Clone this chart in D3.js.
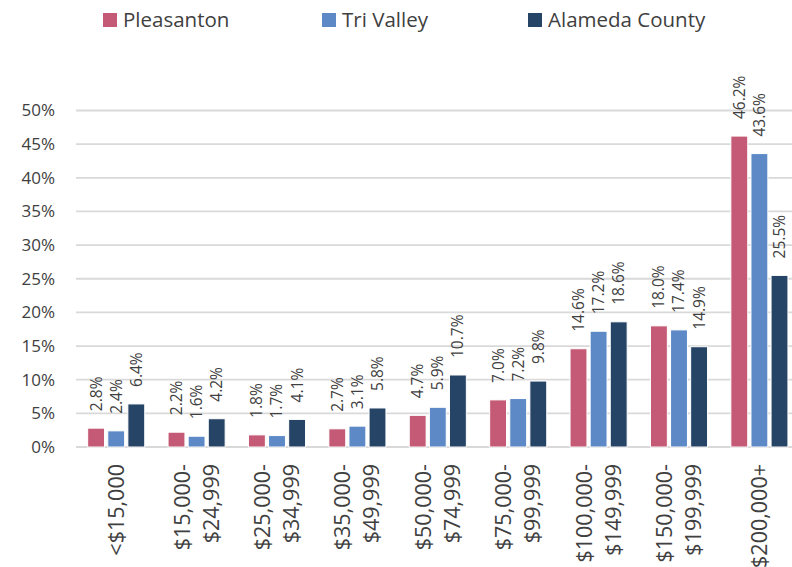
<!DOCTYPE html>
<html>
<head>
<meta charset="utf-8">
<script src="https://cdn.jsdelivr.net/npm/d3@7"></script>
<style>
  html, body { margin: 0; padding: 0; background: #fff; }
  svg { display: block; font-family: "Open Sans", sans-serif; }
</style>
</head>
<body>
<svg id="chart" width="792" height="567"></svg>
<script>
const categories = [
  ["<$15,000"],
  ["$15,000-", "$24,999"],
  ["$25,000-", "$34,999"],
  ["$35,000-", "$49,999"],
  ["$50,000-", "$74,999"],
  ["$75,000-", "$99,999"],
  ["$100,000-", "$149,999"],
  ["$150,000-", "$199,999"],
  ["$200,000+"]
];
const seriesNames = ["Pleasanton", "Tri Valley", "Alameda County"];
const pleasanton = [2.8, 2.2, 1.8, 2.7, 4.7, 7.0, 14.6, 18.0, 46.2];
const triValley = [2.4, 1.6, 1.7, 3.1, 5.9, 7.2, 17.2, 17.4, 43.6];
const alameda = [6.4, 4.2, 4.1, 5.8, 10.7, 9.8, 18.6, 14.9, 25.5];
const yTicks = [0, 5, 10, 15, 20, 25, 30, 35, 40, 45, 50];

const colors = ["#C45A75", "#5D8AC6", "#264466"];
const seriesValues = [pleasanton, triValley, alameda];
const textColor = "#404040";

const svg = d3.select("#chart");
const catKeys = categories.map((c, i) => i);

const x0 = d3.scaleBand().domain(catKeys).range([76, 799.6]).paddingInner(0.29).paddingOuter(0.145);
const x1 = d3.scaleBand().domain(seriesNames).range([0, x0.bandwidth()]).paddingInner(0.16);
const y = d3.scaleLinear().domain([0, 50]).range([447, 110.5]);

// gridlines
svg.append("g").selectAll("line").data(yTicks).join("line")
  .attr("x1", 76).attr("x2", 792)
  .attr("y1", d => y(d)).attr("y2", d => y(d))
  .attr("stroke", "#D9D9D9").attr("stroke-width", 1.8);

// y tick labels
svg.append("g").selectAll("text").data(yTicks).join("text")
  .attr("x", 55).attr("y", d => y(d)).attr("dy", "0.35em")
  .attr("text-anchor", "end").attr("font-size", 17).attr("fill", textColor)
  .text(d => d + "%");

// bars
const groups = svg.append("g").selectAll("g").data(catKeys).join("g")
  .attr("transform", i => `translate(${x0(i)},0)`);

groups.selectAll("rect").data(i => seriesNames.map((s, k) => ({ s, k, v: seriesValues[k][i] })))
  .join("rect")
  .attr("x", d => x1(d.s)).attr("width", x1.bandwidth())
  .attr("y", d => y(d.v)).attr("height", d => y(0) - y(d.v))
  .attr("fill", d => colors[d.k])
  .attr("stroke", "#ffffff").attr("stroke-width", 1);

// value labels
groups.selectAll("text").data(i => seriesNames.map((s, k) => ({ s, k, v: seriesValues[k][i] })))
  .join("text")
  .attr("transform", d => `translate(${x1(d.s) + x1.bandwidth() / 2},${y(d.v) - 17}) rotate(-90)`)
  .attr("dy", "0.35em")
  .attr("text-anchor", "start").attr("font-size", 15.5).attr("fill", textColor)
  .text(d => d.v.toFixed(1) + "%");

// x axis labels
const xl = svg.append("g").selectAll("g").data(catKeys).join("g");
xl.each(function(i) {
  const lines = categories[i];
  const cx = x0(i) + x0.bandwidth() / 2;
  const n = lines.length;
  lines.forEach((t, j) => {
    const off = (j - (n - 1) / 2) * 29;
    d3.select(this).append("text")
      .attr("transform", `translate(${cx + off},464) rotate(-90)`)
      .attr("dy", "0.35em")
      .attr("text-anchor", "end").attr("font-size", 21.5).attr("fill", textColor)
      .text(t);
  });
});

// legend
const legendX = [103, 322, 528];
const lg = svg.append("g").selectAll("g").data(seriesNames).join("g")
  .attr("transform", (d, k) => `translate(${legendX[k]},0)`);
lg.append("rect").attr("x", 0).attr("y", 13).attr("width", 14).attr("height", 14)
  .attr("fill", (d, k) => colors[k]);
lg.append("text").attr("x", 20).attr("y", 27)
  .attr("font-size", 20.5).attr("fill", textColor).text(d => d);
</script>
</body>
</html>
